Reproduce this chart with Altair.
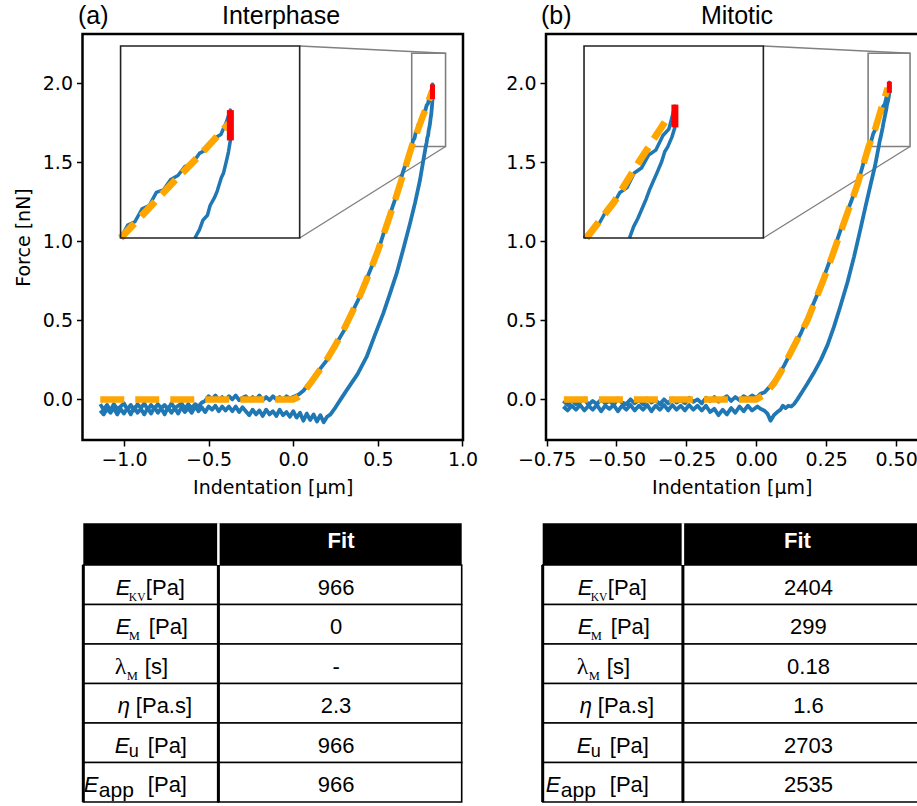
import altair as alt
import pandas as pd

W, H = 917, 806

# ---------------- Panel (a) Interphase ----------------
a_app_x = [-1.14, -1.12, -1.10, -1.08, -1.06, -1.04, -1.02, -1.00, -0.98, -0.96, -0.94, -0.92, -0.90,
           -0.88, -0.86, -0.84, -0.82, -0.80, -0.78, -0.76, -0.74, -0.72, -0.70, -0.68, -0.66, -0.64,
           -0.62, -0.60, -0.58, -0.56, -0.54, -0.52, -0.50, -0.48, -0.46, -0.44, -0.42, -0.40, -0.38,
           -0.36, -0.34, -0.32, -0.30, -0.28, -0.26, -0.24, -0.22, -0.20, -0.18, -0.16, -0.14, -0.12,
           -0.10, -0.08, -0.06, -0.04, -0.02, 0.00,
           0.03, 0.06, 0.09, 0.12, 0.16, 0.20, 0.25, 0.30, 0.35, 0.40, 0.45, 0.50, 0.55, 0.60, 0.65,
           0.700, 0.708, 0.716, 0.724, 0.732, 0.740, 0.748, 0.756, 0.764, 0.772, 0.780, 0.788, 0.796,
           0.804, 0.812, 0.818, 0.8226]
a_app_y = [-0.030, -0.065, -0.035, -0.070, -0.030, -0.060, -0.045, -0.025, -0.065, -0.035, -0.070,
           -0.030, -0.055, -0.025, -0.065, -0.035, -0.060, -0.030, -0.055, -0.035, -0.065, -0.025,
           -0.055, -0.040, -0.025, -0.060, -0.030, -0.055, -0.030, -0.045, -0.020, -0.010, 0.020,
           0.000, 0.025, -0.005, 0.015, -0.005, 0.020, 0.000, 0.025, -0.005, 0.010, 0.020, -0.005,
           0.015, 0.000, 0.025, -0.005, 0.015, -0.005, 0.020, 0.000, 0.015, -0.005, 0.020, 0.005, 0.015,
           0.030, 0.055, 0.095, 0.125, 0.195, 0.250, 0.345, 0.435, 0.555, 0.665, 0.805, 0.935, 1.105,
           1.260, 1.445,
           1.600, 1.640, 1.650, 1.690, 1.700, 1.740, 1.748, 1.780, 1.792, 1.820, 1.828, 1.860, 1.872,
           1.905, 1.918, 1.955, 1.993]
a_ret_x = [0.8226, 0.8205, 0.8185, 0.815, 0.8125, 0.808, 0.805, 0.800, 0.797, 0.792, 0.788, 0.783,
           0.765, 0.749, 0.72, 0.69, 0.65, 0.611, 0.57, 0.532, 0.48, 0.434, 0.38, 0.316, 0.28, 0.25,
           0.22,
           0.20, 0.18, 0.16, 0.14, 0.12, 0.10, 0.08, 0.06, 0.04, 0.02, 0.00, -0.02, -0.04, -0.06,
           -0.08, -0.10, -0.12, -0.14, -0.16, -0.18, -0.20, -0.22, -0.24, -0.26, -0.28, -0.30, -0.32,
           -0.34, -0.36, -0.38, -0.40, -0.42, -0.44, -0.46, -0.48, -0.50, -0.52, -0.54, -0.56, -0.58,
           -0.60, -0.62, -0.64, -0.66, -0.68, -0.70, -0.72, -0.74, -0.76, -0.78, -0.80, -0.82, -0.84,
           -0.86, -0.88, -0.90, -0.92, -0.94, -0.96, -0.98, -1.00, -1.02, -1.04, -1.06, -1.08, -1.10,
           -1.12, -1.14]
a_ret_y = [1.900, 1.865, 1.840, 1.800, 1.785, 1.745, 1.725, 1.700, 1.670, 1.655, 1.625, 1.600,
           1.490, 1.388, 1.245, 1.114, 0.950, 0.797, 0.665, 0.544, 0.400, 0.270, 0.160, 0.059, 0.000,
           -0.050, -0.095,
           -0.110, -0.145, -0.100, -0.140, -0.095, -0.130, -0.090, -0.135, -0.085, -0.115, -0.075,
           -0.110, -0.080, -0.100, -0.065, -0.105, -0.075, -0.095, -0.065, -0.105, -0.070, -0.095,
           -0.065, -0.100, -0.075, -0.050, -0.080, -0.045, -0.075, -0.045, -0.070, -0.045, -0.075,
           -0.040, -0.065, -0.045, -0.080, -0.050, -0.075, -0.045, -0.085, -0.055, -0.080, -0.050,
           -0.090, -0.055, -0.085, -0.050, -0.095, -0.055, -0.085, -0.050, -0.090, -0.055, -0.095,
           -0.060, -0.085, -0.050, -0.095, -0.055, -0.090, -0.060, -0.095, -0.055, -0.085, -0.060,
           -0.095, -0.070]
a_fit_x = [-1.14, -0.60, 0.00, 0.03, 0.06, 0.10, 0.15, 0.20, 0.25, 0.30, 0.35, 0.40, 0.45, 0.50,
           0.55, 0.60, 0.65, 0.70, 0.731, 0.761, 0.791, 0.822]
a_fit_y = [0.000, 0.000, 0.000, 0.015, 0.045, 0.100, 0.175, 0.255, 0.345, 0.445, 0.555, 0.670,
           0.800, 0.940, 1.095, 1.255, 1.425, 1.600, 1.690, 1.778, 1.862, 1.955]
a_dwell_x = [0.8226, 0.8226]
a_dwell_y = [1.900, 1.993]

# ---------------- Panel (b) Mitotic ----------------
b_app_x = [-0.690, -0.675, -0.660, -0.645, -0.630, -0.615, -0.600, -0.585, -0.570, -0.555, -0.540,
           -0.525, -0.510, -0.495, -0.480, -0.465, -0.450, -0.435, -0.420, -0.405, -0.390, -0.375,
           -0.360, -0.345, -0.330, -0.315, -0.300, -0.285, -0.270, -0.255, -0.240, -0.225, -0.210,
           -0.195, -0.180, -0.165, -0.150, -0.135, -0.120, -0.105, -0.090, -0.075, -0.060, -0.045,
           -0.030, -0.015, 0.000, 0.015, 0.030, 0.050,
           0.075, 0.10, 0.13, 0.16, 0.19, 0.22, 0.25, 0.28, 0.31, 0.34, 0.37,
           0.400, 0.406, 0.412, 0.418, 0.424, 0.430, 0.436, 0.442, 0.448, 0.454, 0.460, 0.466, 0.471,
           0.476]
b_app_y = [-0.010, -0.035, -0.005, -0.030, -0.015, 0.005, -0.035, -0.010, -0.030, 0.000, -0.025,
           -0.010, -0.035, 0.005, -0.020, -0.030, 0.000, -0.025, -0.005, -0.030, 0.005, -0.020,
           -0.005, -0.030, 0.000, -0.025, 0.005, -0.020, -0.005, -0.025, 0.010, -0.015, 0.000,
           -0.025, 0.010, -0.010, 0.015, -0.015, 0.005, 0.020, -0.010, 0.015, -0.005, 0.020, 0.005,
           0.025, 0.010, 0.035, 0.045, 0.085,
           0.140, 0.215, 0.320, 0.420, 0.545, 0.670, 0.815, 0.960, 1.115, 1.255, 1.410,
           1.600, 1.625, 1.640, 1.680, 1.700, 1.740, 1.755, 1.800, 1.815, 1.855, 1.870, 1.915, 1.935,
           2.005]
b_ret_x = [0.476, 0.4735, 0.470, 0.4675, 0.465, 0.461, 0.458, 0.455, 0.452, 0.4485, 0.445, 0.4415,
           0.438, 0.425, 0.409, 0.390, 0.373, 0.350, 0.326, 0.300, 0.278, 0.255, 0.231, 0.205, 0.183,
           0.165, 0.147, 0.135, 0.125, 0.115, 0.105, 0.095, 0.087, 0.075, 0.063, 0.051, 0.045, 0.040,
           0.028, 0.015, 0.004,
           -0.015, -0.030, -0.045, -0.060, -0.075, -0.090, -0.105, -0.120, -0.135, -0.150, -0.165,
           -0.180, -0.195, -0.210, -0.225, -0.240, -0.255, -0.270, -0.285, -0.300, -0.315, -0.330,
           -0.345, -0.360, -0.375, -0.390, -0.405, -0.420, -0.435, -0.450, -0.465, -0.480, -0.495,
           -0.510, -0.525, -0.540, -0.555, -0.570, -0.585, -0.600, -0.615, -0.630, -0.645, -0.660,
           -0.675, -0.690]
b_ret_y = [1.940, 1.910, 1.880, 1.865, 1.835, 1.800, 1.775, 1.750, 1.720, 1.690, 1.660, 1.635,
           1.600, 1.480, 1.360, 1.215, 1.080, 0.905, 0.740, 0.585, 0.460, 0.345, 0.250, 0.165, 0.100,
           0.050, 0.000, -0.030, -0.045, -0.040, -0.055, -0.040, -0.065, -0.080, -0.100, -0.135,
           -0.110, -0.090, -0.070, -0.060, -0.045,
           -0.070, -0.040, -0.075, -0.045, -0.085, -0.055, -0.095, -0.065, -0.100, -0.060, -0.080,
           -0.040, -0.070, -0.040, -0.065, -0.035, -0.070, -0.040, -0.065, -0.035, -0.070, -0.035,
           -0.065, -0.040, -0.075, -0.035, -0.065, -0.040, -0.070, -0.035, -0.065, -0.040, -0.075,
           -0.035, -0.060, -0.040, -0.075, -0.035, -0.065, -0.040, -0.070, -0.035, -0.065, -0.040,
           -0.070, -0.045]
b_fit_x = [-0.688, -0.30, 0.00, 0.03, 0.063, 0.09, 0.111, 0.15, 0.183, 0.21, 0.242, 0.27, 0.302,
           0.33, 0.362, 0.402, 0.425, 0.447, 0.47]
b_fit_y = [0.000, 0.000, 0.000, 0.030, 0.100, 0.180, 0.255, 0.390, 0.500, 0.620, 0.765, 0.900,
           1.060, 1.200, 1.360, 1.600, 1.710, 1.840, 1.970]
b_dwell_x = [0.476, 0.476]
b_dwell_y = [1.940, 2.010]

# ---------------- Tables ----------------
row_keys = ["E_KV", "E_M", "lambda_M", "eta", "E_u", "E_app"]
a_values = ["966", "0", "-", "2.3", "966", "966"]
b_values = ["2404", "299", "0.18", "1.6", "2703", "2535"]
header_text = "Fit"

# pieces of the row labels: (text, style)
label_pieces = {
    "E_KV": [("E", "it"), ("KV", "sub_kv"), ("[Pa]", "rm")],
    "E_M": [("E", "it"), ("M", "sub_m"), ("[Pa]", "rm")],
    "lambda_M": [("λ", "serif"), ("M", "sub_m"), ("[s]", "rm")],
    "eta": [("η", "it"), ("[Pa.s]", "rm")],
    "E_u": [("E", "it"), ("u", "sub_u"), ("[Pa]", "rm")],
    "E_app": [("E", "it"), ("app", "sub_app"), ("[Pa]", "rm")],
}
# layout offsets (dx, dy) of each piece relative to the label cell centre
piece_offsets = {
    "E_KV": [(-35, 10), (-22, 16), (-5, 10)],
    "E_M": [(-35, 10), (-22, 16), (-2, 10)],
    "lambda_M": [(-36, 10), (-24, 16), (-6, 10)],
    "eta": [(-33, 10), (-15, 10)],
    "E_u": [(-36, 10), (-22, 14), (-3, 10)],
    "E_app": [(-67, 10), (-52, 15), (-3, 10)],
}
styles = {
    "it": dict(font="Liberation Sans", fontSize=22, fontStyle="italic"),
    "rm": dict(font="Liberation Sans", fontSize=22),
    "serif": dict(font="Liberation Serif", fontSize=24),
    "sub_kv": dict(font="Liberation Serif", fontSize=11.5),
    "sub_m": dict(font="Liberation Serif", fontSize=12.5),
    "sub_u": dict(font="Liberation Sans", fontSize=18),
    "sub_app": dict(font="Liberation Sans", fontSize=21),
}


def lin(v, dom, rng):
    return rng[0] + (v - dom[0]) / (dom[1] - dom[0]) * (rng[1] - rng[0])


def panel(cfg):
    xs = alt.Scale(domain=cfg["xdom"], range=cfg["xrng"], nice=False, zero=False)
    ys = alt.Scale(domain=cfg["ydom"], range=cfg["yrng"], nice=False, zero=False)
    curve = pd.DataFrame({
        "x": cfg["app_x"] + cfg["ret_x"],
        "y": cfg["app_y"] + cfg["ret_y"],
    })
    curve["i"] = range(len(curve))
    fit = pd.DataFrame({"x": cfg["fit_x"], "y": cfg["fit_y"]})
    fit["i"] = range(len(fit))
    dwell = pd.DataFrame({"x": cfg["dwell_x"], "y": cfg["dwell_y"]})

    xax = alt.Axis(orient="bottom", offset=-(H - cfg["yrng"][0]), values=cfg["xticks"],
                   format=cfg["xfmt"], title="Indentation [μm]", grid=False, domain=False,
                   tickSize=6, tickWidth=1.5, tickColor="black", labelColor="black",
                   labelFont="DejaVu Sans", labelFontSize=19, labelPadding=4,
                   titleFont="DejaVu Sans", titleFontSize=19, titleFontWeight="normal",
                   titleColor="black", titlePadding=9, labelFlush=False, labelOverlap=False)
    yax = alt.Axis(orient="left", offset=-cfg["xrng"][0], values=cfg["yticks"], format=".1f",
                   title=cfg["ytitle"], grid=False, domain=False,
                   tickSize=6, tickWidth=1.5, tickColor="black", labelColor="black",
                   labelFont="DejaVu Sans", labelFontSize=19, labelPadding=4,
                   titleFont="DejaVu Sans", titleFontSize=19, titleFontWeight="normal",
                   titleColor="black", titlePadding=9, labelFlush=False, labelOverlap=False)

    X = alt.X("x:Q", scale=xs, axis=xax)
    Y = alt.Y("y:Q", scale=ys, axis=yax)

    zx0, zx1 = cfg["zx"]
    zy0, zy1 = cfg["zy"]
    bx0, bx1 = cfg["box_x"]
    by0, by1 = cfg["box_y"]
    conn = pd.DataFrame({"x": [bx1, bx1], "y": [by1, by0], "x2": [zx1, zx1], "y2": [zy1, zy0]})
    zbox = pd.DataFrame({"x": [zx0], "x2": [zx1], "y": [zy0], "y2": [zy1]})
    frame = pd.DataFrame({"x": [cfg["xdom"][0]], "x2": [cfg["frame_x1"]],
                          "y": [cfg["ydom"][0]], "y2": [cfg["ydom"][1]]})

    layers = [
        alt.Chart(conn).mark_rule(color="#808080", strokeWidth=1.4).encode(
            x=X, y=Y, x2="x2:Q", y2="y2:Q"),
        alt.Chart(zbox).mark_rect(fill=None, stroke="#808080", strokeWidth=1.6).encode(
            x=X, y=Y, x2="x2:Q", y2="y2:Q"),
        alt.Chart(curve).mark_line(color="#1f77b4", strokeWidth=3.8, strokeJoin="round").encode(
            x=X, y=Y, order="i:Q"),
        alt.Chart(fit).mark_line(color="#ffa500", strokeWidth=6.5, strokeDash=[24, 11]).encode(
            x=X, y=Y, order="i:Q"),
        alt.Chart(dwell).mark_line(color="#ff0000", strokeWidth=5).encode(x=X, y=Y),
        alt.Chart(frame).mark_rect(fill=None, stroke="black", strokeWidth=2.5).encode(
            x=X, y=Y, x2="x2:Q", y2="y2:Q"),
        alt.Chart(pd.DataFrame({"t": [cfg["tag"]]})).mark_text(
            font="Liberation Sans", fontSize=25, align="left", baseline="alphabetic",
            color="black").encode(text="t:N", x=alt.value(cfg["tag_x"]), y=alt.value(24)),
        alt.Chart(pd.DataFrame({"t": [cfg["title"]]})).mark_text(
            font="Liberation Sans", fontSize=25, align="center", baseline="alphabetic",
            color="black").encode(text="t:N", x=alt.value(cfg["title_x"]), y=alt.value(24)),
    ]
    main = alt.layer(*layers)

    ix = [lin(bx0, cfg["xdom"], cfg["xrng"]), lin(bx1, cfg["xdom"], cfg["xrng"])]
    iy = [lin(by0, cfg["ydom"], cfg["yrng"]), lin(by1, cfg["ydom"], cfg["yrng"])]
    ixs = alt.Scale(domain=[zx0, zx1], range=ix, nice=False, zero=False)
    iys = alt.Scale(domain=[zy0, zy1], range=iy, nice=False, zero=False)
    IX = alt.X("x:Q", scale=ixs, axis=None)
    IY = alt.Y("y:Q", scale=iys, axis=None)
    flt = ((alt.datum.x >= zx0 - 1e-6) & (alt.datum.x <= zx1) &
           (alt.datum.y >= zy0 - 1e-3) & (alt.datum.y <= zy1))
    iframe = pd.DataFrame({"x": [zx0], "x2": [zx1], "y": [zy0], "y2": [zy1]})
    inset = alt.layer(
        alt.Chart(iframe).mark_rect(fill="white", stroke=None).encode(
            x=IX, y=IY, x2="x2:Q", y2="y2:Q"),
        alt.Chart(curve).transform_filter(flt).mark_line(
            color="#1f77b4", strokeWidth=3.5, strokeJoin="round").encode(x=IX, y=IY, order="i:Q"),
        alt.Chart(fit).transform_filter(flt).mark_line(
            color="#ffa500", strokeWidth=7, strokeDash=[20, 10]).encode(x=IX, y=IY, order="i:Q"),
        alt.Chart(dwell).mark_line(color="#ff0000", strokeWidth=7).encode(x=IX, y=IY),
        alt.Chart(iframe).mark_rect(fill=None, stroke="#222222", strokeWidth=1.6).encode(
            x=IX, y=IY, x2="x2:Q", y2="y2:Q"),
    )
    return main, inset


def table(cfg):
    tx = alt.Scale(domain=[0, 1], range=cfg["xrng"], nice=False, zero=False)
    ty = alt.Scale(domain=[0, 6], range=[565, 802], nice=False, zero=False)
    div = cfg["div"]
    TX = lambda f: alt.X(f, type="quantitative", scale=tx, axis=None)
    TY = lambda f: alt.Y(f, type="quantitative", scale=ty, axis=None)
    cells = []
    for r in range(len(row_keys)):
        cells.append({"x": 0.0, "x2": div, "y": r, "y2": r + 1})
        cells.append({"x": div, "x2": 1.0, "y": r, "y2": r + 1})
    cells = pd.DataFrame(cells)
    hdr = pd.DataFrame({"x": [0.0], "x2": [1.0], "y": [-1.06], "y2": [0.0]})
    vals = pd.DataFrame({"row": row_keys, "v": cfg["values"]})
    vals["r"] = range(len(vals))
    vc = (1 + div) / 2
    lc = div / 2
    layers = [
        alt.Chart(hdr).mark_rect(fill="black", stroke=None).encode(
            x=TX("x"), y=TY("y"), x2="x2:Q", y2="y2:Q"),
        alt.Chart(cells).mark_rect(fill="white", stroke="black", strokeWidth=1.6).encode(
            x=TX("x"), y=TY("y"), x2="x2:Q", y2="y2:Q"),
        alt.Chart(pd.DataFrame({"x": [0.0, div], "y": [0.0, 0.0], "y2": [6.0, 6.0]})).mark_rule(
            color="black", strokeWidth=3).encode(x=TX("x"), y=TY("y"), y2="y2:Q"),
        alt.Chart(pd.DataFrame({"x": [div], "y": [-1.06], "y2": [0.0]})).mark_rule(
            color="white", strokeWidth=2.5).encode(x=TX("x"), y=TY("y"), y2="y2:Q"),
        alt.Chart(pd.DataFrame({"t": [header_text]})).mark_text(
            font="Liberation Sans", fontSize=22, fontWeight="bold", color="white",
            baseline="middle", dx=cfg["hdr_dx"]).encode(
                text="t:N", x=alt.XDatum(vc, scale=tx, axis=None),
                y=alt.YDatum(-0.6, scale=ty, axis=None)),
        alt.Chart(vals).transform_calculate(yc="datum.r + 0.5").mark_text(
            font="Liberation Sans", fontSize=22, color="black", baseline="alphabetic",
            dy=10, dx=cfg["val_dx"]).encode(
                text="v:N", x=alt.XDatum(vc, scale=tx, axis=None), y=TY("yc")),
    ]
    for r, key in enumerate(row_keys):
        for (txt, sty), (dx, dy) in zip(label_pieces[key], piece_offsets[key]):
            d = pd.DataFrame({"t": [txt], "r": [r]})
            layers.append(
                alt.Chart(d).transform_calculate(yc="datum.r + 0.5").mark_text(
                    align="left", baseline="alphabetic", color="black", dx=dx, dy=dy,
                    **styles[sty]).encode(text="t:N", x=alt.XDatum(lc, scale=tx, axis=None),
                                          y=TY("yc")))
    return alt.layer(*layers)


cfg_a = dict(xdom=[-1.245, 1.003], xrng=[82.5, 463], ydom=[-0.257, 2.312], yrng=[440, 34],
             app_x=a_app_x, app_y=a_app_y, ret_x=a_ret_x, ret_y=a_ret_y,
             fit_x=a_fit_x, fit_y=a_fit_y, dwell_x=a_dwell_x, dwell_y=a_dwell_y,
             xticks=[-1.0, -0.5, 0.0, 0.5, 1.0], xfmt=".1f", yticks=[0.0, 0.5, 1.0, 1.5, 2.0],
             ytitle="Force [nN]", zx=[0.70, 0.90], zy=[1.60, 2.19],
             box_x=[-1.02, 0.038], box_y=[1.021, 2.236], frame_x1=1.003,
             tag="(a)", tag_x=78, title="Interphase", title_x=281)
cfg_b = dict(xdom=[-0.752, 0.577], xrng=[546, 917.6], ydom=[-0.257, 2.312], yrng=[440, 34],
             app_x=b_app_x, app_y=b_app_y, ret_x=b_ret_x, ret_y=b_ret_y,
             fit_x=b_fit_x, fit_y=b_fit_y, dwell_x=b_dwell_x, dwell_y=b_dwell_y,
             xticks=[-0.75, -0.5, -0.25, 0.0, 0.25, 0.5], xfmt=".2f",
             yticks=[0.0, 0.5, 1.0, 1.5, 2.0], ytitle=None, zx=[0.40, 0.55], zy=[1.60, 2.19],
             box_x=[-0.616, 0.0254], box_y=[1.021, 2.236], frame_x1=0.62,
             tag="(b)", tag_x=541, title="Mitotic", title_x=737)

main_a, inset_a = panel(cfg_a)
main_b, inset_b = panel(cfg_b)
tab_a = table(dict(xrng=[83.3, 461.7], div=0.357, values=a_values, hdr_dx=1, val_dx=-4))
tab_b = table(dict(xrng=[542.7, 930], div=0.362, values=b_values, hdr_dx=-9, val_dx=2))

chart = alt.layer(main_a, inset_a, main_b, inset_b, tab_a, tab_b).resolve_scale(
    x="independent", y="independent"
).properties(
    width=W, height=H, autosize=alt.AutoSizeParams(type="none"), padding=0,
    background="white",
).configure_view(stroke=None)

chart.save("out.html", embed_options={"renderer": "svg", "actions": False})
